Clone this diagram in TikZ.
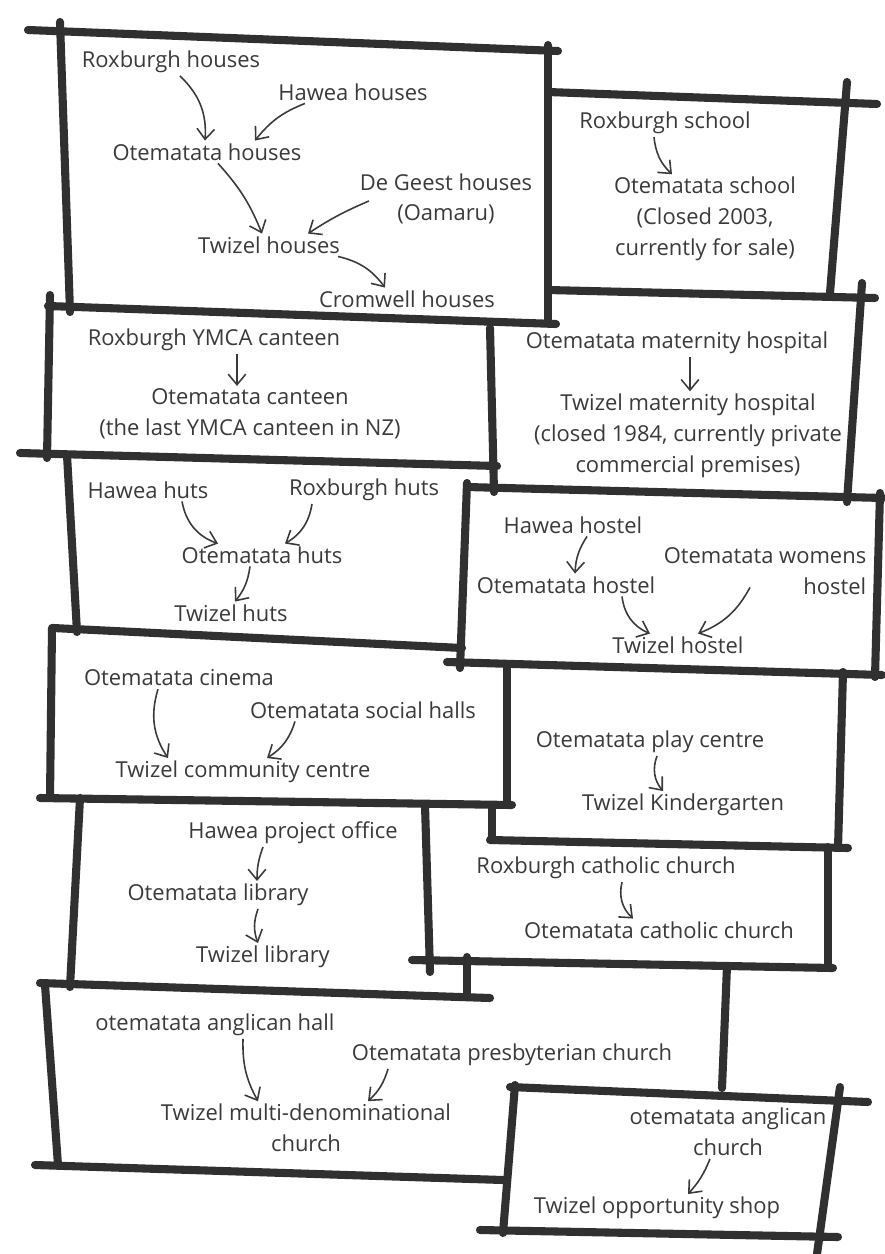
\documentclass[tikz,border=0pt]{standalone}
\usepackage{fontspec}
\setmainfont{Open Sans}
\usetikzlibrary{positioning,arrows.meta}
\definecolor{ink}{HTML}{303030}
\definecolor{pen}{HTML}{3A3A3A}

\begin{document}
\begin{tikzpicture}[
          x=0.02cm, y=-0.02cm,
          wall/.style={draw=ink,line width=4.6pt,line cap=round},
          lbl/.style={text=pen,inner sep=1.5pt,align=center,font=\fontsize{12.5}{17.5}\selectfont},
          arw/.style={draw=pen,line width=0.9pt,-{Straight Barb[length=6pt,width=10pt]}}
            ]
    \useasboundingbox (0,0) rectangle (885,1254);

    \draw[wall] (28,30) -- (558,51);
    \draw[wall] (60,22) -- (70,312);
    \draw[wall] (548,45) -- (548,323);
    \draw[wall] (48,306) -- (556,324);
    \draw[wall] (548,92) -- (877,104);
    \draw[wall] (847,82) -- (830,293);
    \draw[wall] (548,290) -- (875,298);
    \draw[wall] (50,295) -- (47,458);
    \draw[wall] (490,328) -- (494,492);
    \draw[wall] (20,453) -- (497,466);
    \draw[wall] (862,283) -- (847,502);
    \draw[wall] (467,487) -- (883,498);
    \draw[wall] (67,455) -- (77,632);
    \draw[wall] (467,483) -- (460,668);
    \draw[wall] (53,628) -- (462,648);
    \draw[wall] (880,493) -- (875,677);
    \draw[wall] (447,662) -- (882,675);
    \draw[wall] (52,628) -- (50,798);
    \draw[wall] (507,664) -- (507,805);
    \draw[wall] (40,798) -- (512,805);
    \draw[wall] (843,672) -- (838,848);
    \draw[wall] (492,806) -- (492,840);
    \draw[wall] (490,840) -- (848,848);
    \draw[wall] (80,798) -- (70,987);
    \draw[wall] (425,805) -- (430,972);
    \draw[wall] (828,847) -- (828,968);
    \draw[wall] (412,960) -- (833,968);
    \draw[wall] (467,957) -- (467,997);
    \draw[wall] (40,983) -- (490,998);
    \draw[wall] (45,985) -- (58,1165);
    \draw[wall] (35,1165) -- (503,1180);
    \draw[wall] (727,966) -- (722,1088);
    \draw[wall] (510,1087) -- (868,1102);
    \draw[wall] (515,1085) -- (503,1233);
    \draw[wall] (840,1087) -- (817,1254);
    \draw[wall] (480,1230) -- (838,1237);

    \node[lbl] (roxhouses) at (171,62) {Roxburgh houses};
    \node[lbl] (hawhouses) at (353,92) {Hawea houses};
    \node[lbl] (otehouses) at (207,152) {Otematata houses};
    \node[lbl] (degeest) at (446,199) {De Geest houses\\(Oamaru)};
    \node[lbl] (twihouses) at (269,245) {Twizel houses};
    \node[lbl] (cromhouses) at (407,299) {Cromwell houses};

    \node[lbl] (roxschool) at (665,123) {Roxburgh school};
    \node[lbl] (oteschool) at (705,219) {Otematata school\\(Closed 2003,\\currently for sale)};

    \node[lbl] (roxcanteen) at (214,340) {Roxburgh YMCA canteen};
    \node[lbl] (otecanteen) at (250,414) {Otematata canteen\\(the last YMCA canteen in NZ)};

    \node[lbl] (otematern) at (677,343) {Otematata maternity hospital};
    \node[lbl] (twimatern) at (688,436) {Twizel maternity hospital\\(closed 1984, currently private\\commercial premises)};

    \node[lbl] (hawhuts) at (148,490) {Hawea huts};
    \node[lbl] (roxhuts) at (364,490) {Roxburgh huts};
    \node[lbl] (otehuts) at (262,555) {Otematata huts};
    \node[lbl] (twihuts) at (231,613) {Twizel huts};

    \node[lbl] (hawhostel) at (573,525) {Hawea hostel};
    \node[lbl] (otehostel) at (566,585) {Otematata hostel};
    \node[lbl,align=right] (womhostel) at (765,571) {Otematata womens\\hostel};
    \node[lbl] (twihostel) at (678,645) {Twizel hostel};

    \node[lbl] (otecinema) at (179,678) {Otematata cinema};
    \node[lbl] (otehalls) at (363,710) {Otematata social halls};
    \node[lbl] (twicommunity) at (243,772) {Twizel community centre};

    \node[lbl] (oteplay) at (650,742) {Otematata play centre};
    \node[lbl] (twikinder) at (683,805) {Twizel Kindergarten};

    \node[lbl] (hawoffice) at (293,833) {Hawea project office};
    \node[lbl] (otelibrary) at (218,895) {Otematata library};
    \node[lbl] (twilibrary) at (263,957) {Twizel library};

    \node[lbl] (roxcatholic) at (606,868) {Roxburgh catholic church};
    \node[lbl] (otecatholic) at (659,930) {Otematata catholic church};

    \node[lbl] (otehall) at (215,1025) {otematata anglican hall};
    \node[lbl] (otepresb) at (512,1055) {Otematata presbyterian church};
    \node[lbl] (twimulti) at (306,1128) {Twizel multi-denominational\\church};

    \node[lbl] (oteanglican) at (728,1132) {otematata anglican\\church};
    \node[lbl] (twishop) at (657,1208) {Twizel opportunity shop};

    \path ([shift={(9,0)}]roxhouses.south) edge[arw,bend left=25] ([shift={(-2,0)}]otehouses.north)
    ([shift={(-48,0)}]hawhouses.south) edge[arw,bend right=15] ([shift={(48,0)}]otehouses.north)
    ([shift={(11,0)}]otehouses.south) edge[arw,bend left=10] ([shift={(-7,0)}]twihouses.north)
    ([shift={(12,2)}]degeest.west) edge[arw,bend right=5] ([shift={(39,0)}]twihouses.north)
    ([shift={(69,0)}]twihouses.south) edge[arw,bend left=20] ([shift={(-22,0)}]cromhouses.north);
    \path ([shift={(-11,0)}]roxschool.south) edge[arw,bend right=20] ([shift={(-33,0)}]oteschool.north);
    \path ([shift={(23,0)}]roxcanteen.south) edge[arw] ([shift={(-13,0)}]otecanteen.north);
    \path ([shift={(13,0)}]otematern.south) edge[arw] ([shift={(2,0)}]twimatern.north);
    \path ([shift={(34,0)}]hawhuts.south) edge[arw,bend right=30] ([shift={(-44,0)}]otehuts.north)
    ([shift={(-52,0)}]roxhuts.south) edge[arw,bend left=25] ([shift={(23,0)}]otehuts.north)
    ([shift={(-12,0)}]otehuts.south) edge[arw,bend left=15] ([shift={(4,0)}]twihuts.north);
    \path ([shift={(14,0)}]hawhostel.south) edge[arw,bend right=15] ([shift={(9,0)}]otehostel.north)
    ([shift={(56,0)}]otehostel.south) edge[arw,bend right=30] ([shift={(-28,0)}]twihostel.north)
    ([shift={(-15,-10)}]womhostel.south) edge[arw,bend left=20] ([shift={(20,0)}]twihostel.north);
    \path ([shift={(-21,0)}]otecinema.south) edge[arw,bend right=25] ([shift={(-75,0)}]twicommunity.north)
    ([shift={(-68,0)}]otehalls.south) edge[arw,bend left=20] ([shift={(24,0)}]twicommunity.north);
    \path ([shift={(7,0)}]oteplay.south) edge[arw,bend right=30] ([shift={(-20,0)}]twikinder.north);
    \path ([shift={(-30,0)}]hawoffice.south) edge[arw,bend right=10] ([shift={(39,0)}]otelibrary.north)
    ([shift={(40,0)}]otelibrary.south) edge[arw,bend right=20] ([shift={(-5,0)}]twilibrary.north);
    \path ([shift={(16,0)}]roxcatholic.south) edge[arw,bend right=30] ([shift={(-26,0)}]otecatholic.north);
    \path ([shift={(28,0)}]otehall.south) edge[arw,bend right=15] ([shift={(-48,0)}]twimulti.north)
    ([shift={(-124,0)}]otepresb.south) edge[arw,bend left=15] ([shift={(62,0)}]twimulti.north);
    \path ([shift={(-18,0)}]oteanglican.south) edge[arw,bend left=10] ([shift={(31,0)}]twishop.north);
\end{tikzpicture}
\end{document}
